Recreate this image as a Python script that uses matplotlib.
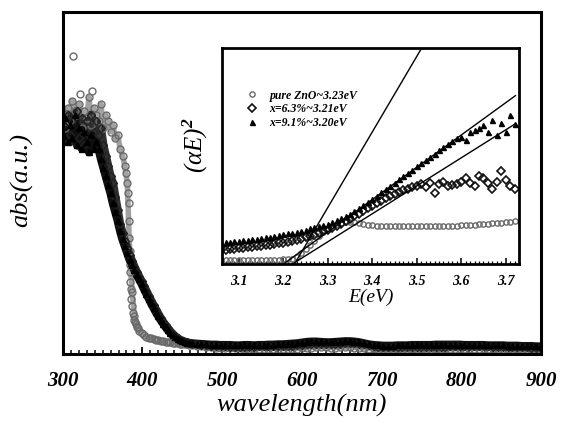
import numpy as np
import matplotlib.pyplot as plt

plt.rcParams['font.family'] = ['Liberation Serif', 'DejaVu Serif']
plt.rcParams['font.weight'] = 'bold'
plt.rcParams['font.style'] = 'italic'
plt.rcParams['mathtext.fontset'] = 'custom'
plt.rcParams['mathtext.rm'] = 'Liberation Serif:bold'
plt.rcParams['mathtext.it'] = 'Liberation Serif:italic:bold'

# ---- main spectrum: wavelength grids (3 nm up to 459, then 6 nm) ----
wl_a = np.arange(300, 460, 3)
wl_b = np.arange(462, 901, 6)

pure_a = [0.70, 0.66, 0.72, 0.68, 0.74, 0.71, 0.70, 0.73, 0.66, 0.71,
          0.69, 0.75, 0.67, 0.72, 0.70, 0.68, 0.73, 0.66, 0.70, 0.68,
          0.65, 0.67, 0.63, 0.64, 0.60, 0.58, 0.55, 0.50, 0.30, 0.18,
          0.11, 0.08, 0.068, 0.060, 0.055, 0.051, 0.048, 0.046, 0.044, 0.042,
          0.040, 0.038, 0.037, 0.036, 0.035, 0.034, 0.033, 0.032, 0.031, 0.030,
          0.029, 0.028, 0.028, 0.027]
x63_a = [0.67, 0.63, 0.70, 0.64, 0.68, 0.62, 0.71, 0.63, 0.69, 0.61,
         0.68, 0.64, 0.70, 0.65, 0.68, 0.64, 0.66, 0.61, 0.58, 0.55,
         0.52, 0.50, 0.46, 0.42, 0.38, 0.355, 0.33, 0.31, 0.29, 0.272,
         0.255, 0.24, 0.226, 0.212, 0.198, 0.184, 0.17, 0.156, 0.142, 0.13,
         0.117, 0.105, 0.094, 0.084, 0.075, 0.066, 0.059, 0.052, 0.047, 0.042,
         0.039, 0.036, 0.034, 0.032]
x91_a = [0.64, 0.69, 0.62, 0.67, 0.63, 0.70, 0.61, 0.66, 0.60, 0.65,
         0.62, 0.59, 0.64, 0.60, 0.62, 0.60, 0.57, 0.545, 0.52, 0.495,
         0.47, 0.44, 0.415, 0.39, 0.36, 0.335, 0.315, 0.295, 0.275, 0.26,
         0.245, 0.23, 0.218, 0.205, 0.19, 0.176, 0.162, 0.148, 0.135, 0.122,
         0.11, 0.099, 0.089, 0.079, 0.07, 0.062, 0.055, 0.049, 0.044, 0.04,
         0.037, 0.035, 0.033, 0.032]

pure_b = [0.026, 0.024, 0.022, 0.021, 0.020, 0.019, 0.018, 0.018, 0.017, 0.017,
          0.017, 0.016, 0.016, 0.016, 0.016, 0.016, 0.016, 0.016, 0.016, 0.016,
          0.016, 0.016, 0.016, 0.017, 0.018, 0.019, 0.020, 0.020, 0.020, 0.019,
          0.019, 0.020, 0.020, 0.020, 0.019, 0.018, 0.017, 0.016, 0.015, 0.014,
          0.014, 0.014, 0.014, 0.014, 0.014, 0.014, 0.014, 0.014, 0.014, 0.014,
          0.015, 0.015, 0.015, 0.015, 0.015, 0.015, 0.015, 0.016, 0.016, 0.016,
          0.016, 0.016, 0.016, 0.016, 0.016, 0.016, 0.016, 0.016, 0.016, 0.015,
          0.015, 0.015, 0.014, 0.014]
x63_b = [0.030, 0.028, 0.026, 0.025, 0.024, 0.023, 0.022, 0.022, 0.021, 0.021,
         0.021, 0.021, 0.021, 0.021, 0.022, 0.022, 0.022, 0.022, 0.023, 0.023,
         0.024, 0.024, 0.025, 0.026, 0.028, 0.029, 0.030, 0.030, 0.030, 0.029,
         0.029, 0.030, 0.031, 0.031, 0.031, 0.030, 0.028, 0.025, 0.023, 0.021,
         0.020, 0.020, 0.020, 0.020, 0.021, 0.021, 0.021, 0.021, 0.021, 0.021,
         0.021, 0.021, 0.021, 0.021, 0.022, 0.022, 0.022, 0.022, 0.022, 0.022,
         0.022, 0.022, 0.022, 0.021, 0.021, 0.021, 0.021, 0.020, 0.020, 0.020,
         0.020, 0.019, 0.019, 0.018]
x91_b = [0.031, 0.030, 0.029, 0.028, 0.027, 0.027, 0.026, 0.026, 0.026, 0.025,
         0.025, 0.026, 0.026, 0.025, 0.026, 0.026, 0.027, 0.027, 0.028, 0.028,
         0.029, 0.030, 0.031, 0.033, 0.035, 0.036, 0.036, 0.035, 0.034, 0.034,
         0.035, 0.036, 0.037, 0.037, 0.036, 0.034, 0.031, 0.028, 0.026, 0.025,
         0.024, 0.024, 0.024, 0.025, 0.025, 0.025, 0.026, 0.026, 0.026, 0.026,
         0.026, 0.027, 0.027, 0.027, 0.027, 0.027, 0.027, 0.026, 0.026, 0.026,
         0.026, 0.026, 0.025, 0.025, 0.025, 0.025, 0.024, 0.024, 0.024, 0.023,
         0.023, 0.023, 0.022, 0.022]

# extra scattered pure ZnO points (outliers and the steep edge)
wl_pd = [313, 322, 337, 380, 382, 383, 383, 383, 384, 385, 385, 386, 386, 387,
         388, 389, 391, 392, 394]
pure_d = [0.87, 0.76, 0.77, 0.53, 0.47, 0.44, 0.39, 0.34, 0.26, 0.24, 0.21, 0.19,
          0.16, 0.14, 0.12, 0.10, 0.095, 0.088, 0.075]

# ---- inset: (alpha E)^2 vs E ----
energy = np.round(np.arange(3.06, 3.7201, 0.01), 2)
in_pure = [0.020, 0.021, 0.020, 0.019, 0.020, 0.021, 0.020, 0.020, 0.019, 0.020,
           0.021, 0.020, 0.020, 0.021, 0.022, 0.022, 0.025, 0.035, 0.050, 0.068,
           0.088, 0.108, 0.128, 0.147, 0.163, 0.176, 0.186, 0.192, 0.195, 0.195,
           0.193, 0.190, 0.186, 0.182, 0.179, 0.177, 0.176, 0.176, 0.175, 0.175,
           0.175, 0.175, 0.175, 0.175, 0.176, 0.176, 0.176, 0.176, 0.176, 0.177,
           0.177, 0.177, 0.177, 0.178, 0.179, 0.180, 0.181, 0.182, 0.184, 0.185,
           0.187, 0.189, 0.190, 0.192, 0.194, 0.196, 0.198]
in_x63 = [0.065, 0.067, 0.069, 0.071, 0.073, 0.075, 0.077, 0.079, 0.082, 0.084,
          0.087, 0.090, 0.093, 0.096, 0.100, 0.104, 0.108, 0.113, 0.118, 0.124,
          0.130, 0.137, 0.144, 0.152, 0.160, 0.169, 0.178, 0.188, 0.198, 0.210,
          0.222, 0.234, 0.246, 0.258, 0.270, 0.282, 0.294, 0.305, 0.316, 0.326,
          0.335, 0.343, 0.350, 0.356, 0.360, 0.370, 0.355, 0.375, 0.330, 0.370,
          0.380, 0.360, 0.365, 0.370, 0.380, 0.400, 0.375, 0.360, 0.410, 0.400,
          0.375, 0.350, 0.380, 0.430, 0.390, 0.360, 0.350]
in_x91 = [0.100, 0.102, 0.104, 0.106, 0.108, 0.110, 0.112, 0.115, 0.118, 0.121,
          0.124, 0.127, 0.130, 0.134, 0.138, 0.142, 0.146, 0.150, 0.155, 0.160,
          0.165, 0.170, 0.176, 0.182, 0.188, 0.195, 0.203, 0.212, 0.222, 0.233,
          0.245, 0.258, 0.272, 0.287, 0.302, 0.317, 0.332, 0.347, 0.362, 0.377,
          0.392, 0.407, 0.422, 0.437, 0.452, 0.467, 0.482, 0.497, 0.512, 0.527,
          0.540, 0.556, 0.570, 0.585, 0.590, 0.575, 0.612, 0.620, 0.628, 0.645,
          0.610, 0.668, 0.600, 0.655, 0.610, 0.690, 0.650]

# linear fits (end points)
fit_pure_e, fit_pure_y = [3.225, 3.511], [0.0, 1.0]
fit_63_e, fit_63_y = [3.22, 3.722], [0.0, 0.65]
fit_91_e, fit_91_y = [3.20, 3.722], [0.0, 0.78]

labels = ['pure ZnO~3.23eV', 'x=6.3%~3.21eV', 'x=9.1%~3.20eV']

fig = plt.figure(figsize=(5.62, 4.26), dpi=100)
ax = fig.add_axes([0.1116, 0.169, 0.851, 0.803])

wl_all = np.concatenate([wl_a, wl_b])
grey = '#6a6a6a'
# dense traces drawn as thick bands, with the markers on top
ax.plot(wl_all, pure_a + pure_b, '-', lw=4, color='#8a8a8a', alpha=0.8)
ax.plot(wl_all, x63_a + x63_b, '-', lw=6, color='#303030')
ax.plot(wl_all, x91_a + x91_b, '-', lw=6, color='#101010')

ax.plot(wl_all, pure_a + pure_b, 'o', ms=5, mfc='none', mec=grey, mew=1)
ax.plot(wl_pd, pure_d, 'o', ms=5, mfc='none', mec=grey, mew=1)
ax.plot(wl_all, x63_a + x63_b, 'D', ms=4.5, mfc='none', mec='#222222', mew=1)
ax.plot(wl_all, x91_a + x91_b, '^', ms=4.5, color='black')

ax.set_xlim(300, 900)
ax.set_ylim(0, 1)
ax.set_yticks([])
ax.set_xticks(range(300, 901, 100))
ax.set_xticks(range(300, 901, 10), minor=True)
ax.tick_params(axis='x', which='major', direction='in', length=5, width=1.3,
               labelsize=15, pad=12)
ax.tick_params(axis='x', which='minor', direction='in', length=3, width=1.1)
for s in ax.spines.values():
    s.set_linewidth(2.2)
ax.set_xlabel('wavelength(nm)', fontsize=19)
ax.xaxis.label.set_va('center')
ax.xaxis.set_label_coords(0.5, -0.15)
ax.set_ylabel('abs(a.u.)', fontsize=19)
ax.yaxis.label.set_va('center')
ax.yaxis.set_label_coords(-0.085, 0.51)

# inset
ins = fig.add_axes([0.395, 0.380, 0.5285, 0.507])
h1, = ins.plot(energy, in_pure, 'o', ms=3.8, mfc='none', mec=grey, mew=1)
h2, = ins.plot(energy, in_x63, 'D', ms=3.6, mfc='none', mec='#111111', mew=1.2)
h3, = ins.plot(energy, in_x91, '^', ms=3.6, color='black')
ins.plot(fit_pure_e, fit_pure_y, '-', color='black', lw=1)
ins.plot(fit_63_e, fit_63_y, '-', color='black', lw=1)
ins.plot(fit_91_e, fit_91_y, '-', color='black', lw=1)

ins.set_xlim(3.062, 3.722)
ins.set_ylim(0, 1)
ins.set_yticks([])
ins.set_xticks([3.1, 3.2, 3.3, 3.4, 3.5, 3.6, 3.7])
ins.set_xticks(np.round(np.arange(3.07, 3.73, 0.01), 2), minor=True)
ins.tick_params(axis='x', which='major', direction='in', length=4, width=1.1,
                labelsize=10, pad=8)
ins.tick_params(axis='x', which='minor', direction='in', length=2.5, width=0.9)
for s in ins.spines.values():
    s.set_linewidth(2)
ins.set_xlabel('E(eV)', fontsize=14)
ins.xaxis.label.set_va('center')
ins.xaxis.set_label_coords(0.5, -0.153)
ins.set_ylabel('(αE)$^2$', fontsize=18)
ins.yaxis.label.set_va('center')
ins.yaxis.set_label_coords(-0.088, 0.55)

ins.legend([h1, h2, h3], labels, loc='upper left', bbox_to_anchor=(0.065, 0.83),
           frameon=False, fontsize=8.5, handlelength=1.0, handletextpad=1.0,
           labelspacing=0.15, borderaxespad=0)

fig.savefig('out.png', dpi=100)
